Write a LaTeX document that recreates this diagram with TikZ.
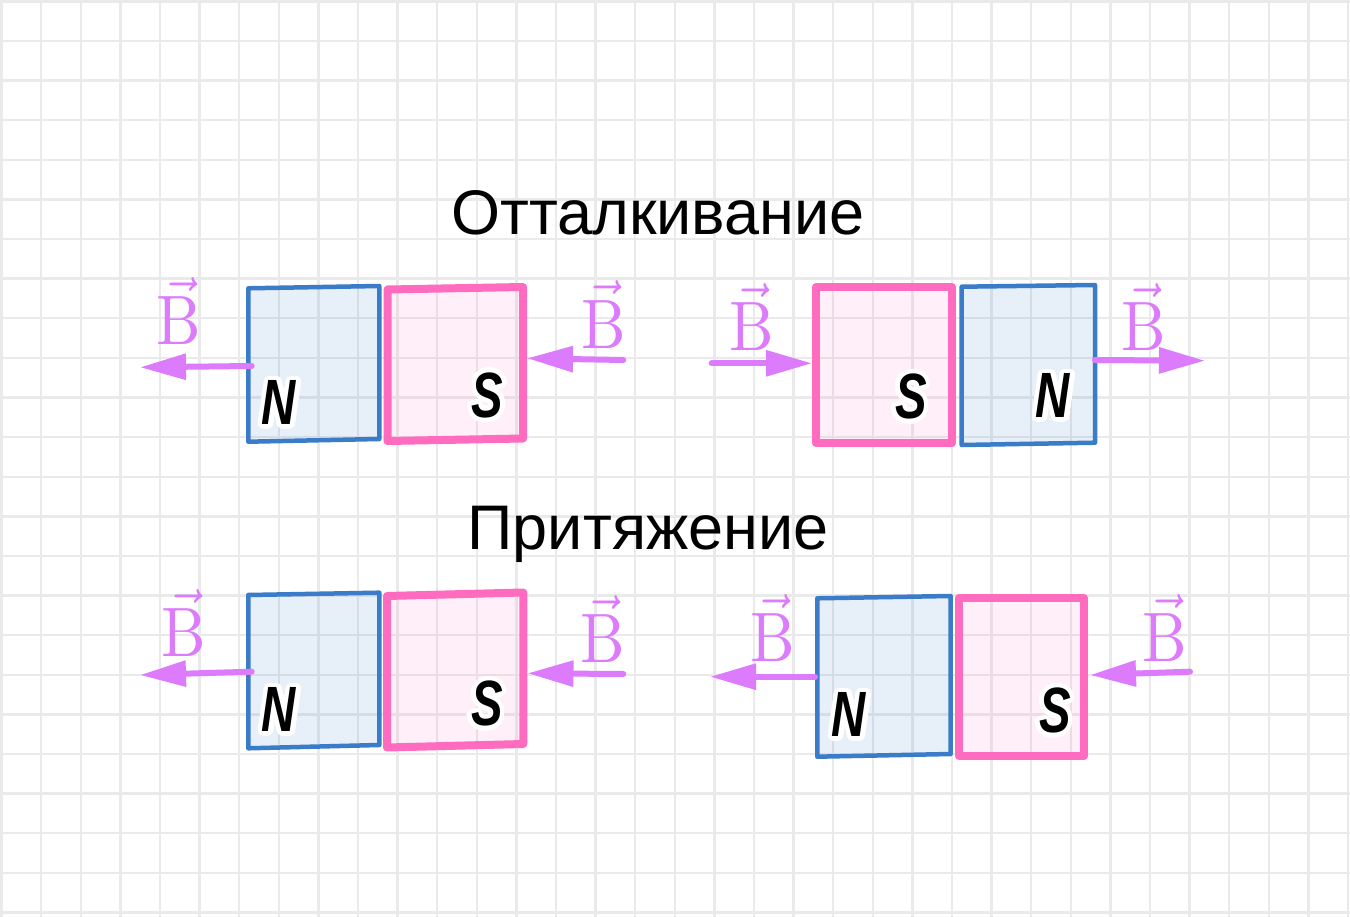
\documentclass[tikz,border=0pt]{standalone}
\usepackage{fontspec}
\usepackage{contour}
\newfontfamily\headfont{Liberation Sans}
\newfontfamily\polefont[FakeStretch=0.74]{Liberation Sans}
\contourlength{4.5pt}
\contournumber{32}
\usetikzlibrary{arrows.meta}
\definecolor{gridgray}{HTML}{EAEAEA}
\definecolor{nblue}{HTML}{3A7CC8}
\definecolor{spink}{HTML}{FF6BBE}
\definecolor{fieldviolet}{HTML}{DC7CFC}
\tikzset{
	gridline/.style={line width=2.4pt, color=gridgray},
	nmag/.style={line width=4.5pt, draw=nblue, fill=nblue, fill opacity=0.12, line join=round},
	smag/.style={line width=8pt, draw=spink, fill=spink, fill opacity=0.1, line join=round},
	field/.style={line width=6pt, color=fieldviolet, line cap=round, -{Triangle[length=46pt,width=25pt]}},
	blabel/.style={anchor=base, inner sep=0pt, text=fieldviolet},
	pole/.style={inner sep=0pt, font=\polefont\bfseries\itshape\fontsize{64}{64}\selectfont},
	heading/.style={anchor=base, inner sep=0pt, font=\headfont\fontsize{63}{75}\selectfont}
}
\newcommand{\fieldB}{\scalebox{6.3}[7]{$\vec{\mathrm{B}}$}}

\begin{document}
\begin{tikzpicture}[x=1pt, y=-1pt]
		%%%%% START %%%%%
		
		\fill[white] (0,0) rectangle (1350,917);
		\useasboundingbox (0,0) rectangle (1350,917);
		
		\foreach \k in {0,...,34}
			\draw[gridline] (1.5+39.6*\k, 0) -- (1.5+39.6*\k, 917);
		\foreach \k in {0,...,23}
			\draw[gridline] (0, 1.5+39.6*\k) -- (1350, 1.5+39.6*\k);
		
		\node[heading] (repel) at (658, 235) {Отталкивание};
		\node[heading] (attract) at (648, 549) {Притяжение};
		
		% top left: N S
		\draw[nmag] (248.3,288.3) -- (379.3,286) -- (379.3,439) -- (248.3,441.7) -- cycle;
		\draw[smag] (387.5,289.5) -- (523,287) -- (523,438.5) -- (387.5,441) -- cycle;
		\coordinate (a1l) at (251.7,366);
		\coordinate (a1lt) at (140,367.3);
		\coordinate (a1r) at (623.3,360);
		\coordinate (a1rt) at (527,358.3);
		\draw[field] (a1l) -- (a1lt);
		\draw[field] (a1r) -- (a1rt);
		\node[blabel] (b1l) at (179,345) {\fieldB};
		\node[blabel] (b1r) at (603.3,348.3) {\fieldB};
		\node[pole] (n1) at (279,405) {\contour{white}{N}};
		\node[pole] (s1) at (487.5,397.5) {\contour{white}{S}};
		
		% top right: S N
		\draw[smag] (816,287) -- (952,287) -- (952,443) -- (816,443) -- cycle;
		\draw[nmag] (961.7,286.7) -- (1095,285) -- (1095,442.7) -- (961.7,445) -- cycle;
		\coordinate (a2l) at (711.7,363.3);
		\coordinate (a2lt) at (812,363.3);
		\coordinate (a2r) at (1095,360);
		\coordinate (a2rt) at (1205,360.7);
		\draw[field] (a2l) -- (a2lt);
		\draw[field] (a2r) -- (a2rt);
		\node[blabel] (b2l) at (751.3,350.7) {\fieldB};
		\node[blabel] (b2r) at (1143.3,350.7) {\fieldB};
		\node[pole] (s2) at (911,399) {\contour{white}{S}};
		\node[pole] (n2) at (1053,398) {\contour{white}{N}};
		
		% bottom left: N S
		\draw[nmag] (248.3,595) -- (379.3,592.7) -- (379.3,745) -- (248.3,748.3) -- cycle;
		\draw[smag] (387,596) -- (523.3,592.5) -- (523.3,744) -- (387,747.5) -- cycle;
		\coordinate (a3l) at (251.7,671.7);
		\coordinate (a3lt) at (140,675);
		\coordinate (a3r) at (623.3,674);
		\coordinate (a3rt) at (527.5,673.3);
		\draw[field] (a3l) -- (a3lt);
		\draw[field] (a3r) -- (a3rt);
		\node[blabel] (b3l) at (184.2,656.7) {\fieldB};
		\node[blabel] (b3r) at (602.5,662.7) {\fieldB};
		\node[pole] (n3) at (279,712) {\contour{white}{N}};
		\node[pole] (s3) at (487,706) {\contour{white}{S}};
		
		% bottom right: N S
		\draw[nmag] (817.3,598.3) -- (950.7,596) -- (950.7,754) -- (817.3,756.7) -- cycle;
		\draw[smag] (959,598) -- (1084,598) -- (1084,756) -- (959,756) -- cycle;
		\coordinate (a4l) at (815,676.7);
		\coordinate (a4lt) at (710,676.7);
		\coordinate (a4r) at (1190,671.7);
		\coordinate (a4rt) at (1090,675);
		\draw[field] (a4l) -- (a4lt);
		\draw[field] (a4r) -- (a4rt);
		\node[blabel] (b4l) at (772.5,661.7) {\fieldB};
		\node[blabel] (b4r) at (1165,661.7) {\fieldB};
		\node[pole] (n4) at (849,717) {\contour{white}{N}};
		\node[pole] (s4) at (1055,713) {\contour{white}{S}};
		
		%%%%% END %%%%%
	\end{tikzpicture}
\end{document}
